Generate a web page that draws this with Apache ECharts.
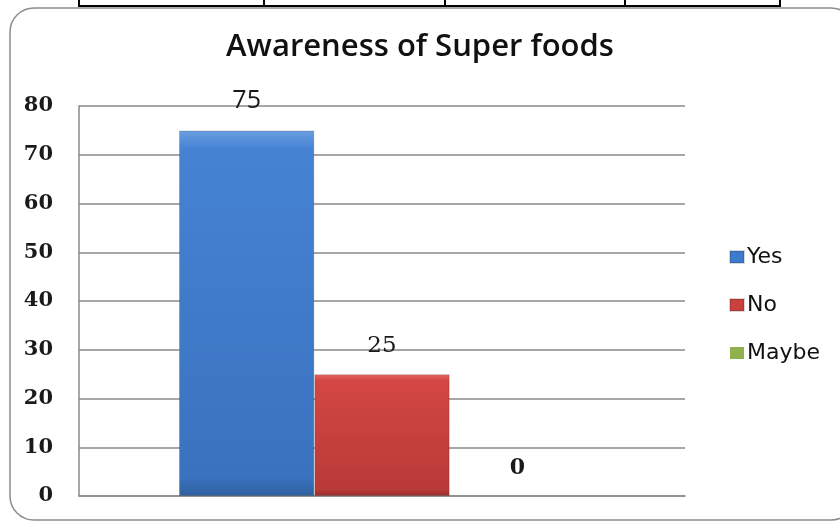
<!DOCTYPE html>
<html><head><meta charset="utf-8">
<script src="https://cdn.jsdelivr.net/npm/echarts@6/dist/echarts.min.js"></script>
<style>html,body{margin:0;padding:0;background:#fff}#c{width:840px;height:522px}</style>
</head><body><div id="c"></div>
<script>
const categories = ['Awareness'];
const seriesNames = ['Yes', 'No', 'Maybe'];
const yesValues = [75];
const noValues = [25];
const maybeValues = [0];
const yTicks = { min: 0, max: 80, interval: 10 };
const titleText = 'Awareness of Super foods';

function grad(c0, c1, c2, c3) {
  return new echarts.graphic.LinearGradient(0, 0, 0, 1, [
    { offset: 0, color: c0 }, { offset: 0.05, color: c1 }, { offset: 0.95, color: c2 }, { offset: 1, color: c3 }
  ]);
}
const colors = [
  grad('#6a9fe0', '#4583d2', '#3a72bf', '#2f5f9e'),
  grad('#e56a68', '#d34744', '#b93a37', '#9a2e2c'),
  grad('#b5d27a', '#9bbb59', '#86a84a', '#6f8d3a')
];
const legendColors = ['#3f7bcc', '#c9403d', '#8fb24f'];

const chart = echarts.init(document.getElementById('c'), null, { renderer: 'canvas' });
const labelStyles = [
  { fontFamily: 'Open Sans', fontSize: 25, color: '#1a1a1a' },
  { fontFamily: 'DejaVu Serif', fontSize: 23, color: '#1a1a1a' },
  { fontFamily: 'DejaVu Serif', fontSize: 22, fontWeight: 'bold', color: '#1a1a1a' }
];
const dataSets = [yesValues, noValues, maybeValues];
chart.setOption({
  animation: false,
  backgroundColor: '#fff',
  title: {
    text: titleText, left: 'center', top: 27,
    textStyle: { fontFamily: 'Open Sans', fontWeight: 600, fontSize: 31, color: '#111' }
  },
  legend: {
    orient: 'vertical', left: 724, top: 241,
    itemWidth: 14, itemHeight: 12, itemGap: 26,
    icon: 'rect',
    textStyle: { fontFamily: 'DejaVu Sans', fontSize: 22, color: '#111', lineHeight: 22, padding: [0, 0, 0, -2] },
    data: seriesNames.map((n, i) => ({ name: n, itemStyle: { color: legendColors[i] } }))
  },
  grid: { left: 79, right: 155, top: 106, bottom: 26, containLabel: false },
  xAxis: {
    type: 'category', data: categories,
    axisLine: { lineStyle: { color: '#8a8a8a', width: 1.5 } },
    axisTick: { show: false }, axisLabel: { show: false }
  },
  yAxis: {
    type: 'value', min: yTicks.min, max: yTicks.max, interval: yTicks.interval,
    axisLine: { show: true, lineStyle: { color: '#8a8a8a', width: 1.5 } },
    axisTick: { show: false },
    axisLabel: { margin: 26, fontFamily: 'DejaVu Serif', fontWeight: 'bold', fontSize: 21, color: '#1a1a1a' },
    splitLine: { lineStyle: { color: '#8a8a8a', width: 1.5 } }
  },
  series: seriesNames.map((n, i) => ({
    name: n, type: 'bar', data: dataSets[i],
    barGap: '0%', barCategoryGap: '33%',
    itemStyle: { color: colors[i], borderColor: 'rgba(0,0,0,0.15)', borderWidth: dataSets[i][0] === 0 ? 0 : 1 },
    label: Object.assign({ show: true, position: 'top', distance: 17 }, labelStyles[i])
  })),
  graphic: [
    { type: 'rect', shape: { x: 10, y: 8, width: 845, height: 512, r: 24 },
      style: { fill: 'none', stroke: '#8c8c8c', lineWidth: 1.5 }, z: -1 },
    { type: 'polyline', shape: { points: [[79, 0], [79, 6], [780, 6], [780, 0]] },
      style: { stroke: '#000', lineWidth: 2, fill: 'none' } },
    { type: 'line', shape: { x1: 264, y1: 0, x2: 264, y2: 6 }, style: { stroke: '#000', lineWidth: 2 } },
    { type: 'line', shape: { x1: 445, y1: 0, x2: 445, y2: 6 }, style: { stroke: '#000', lineWidth: 2 } },
    { type: 'line', shape: { x1: 625, y1: 0, x2: 625, y2: 6 }, style: { stroke: '#000', lineWidth: 2 } }
  ]
});
</script>
</body></html>
